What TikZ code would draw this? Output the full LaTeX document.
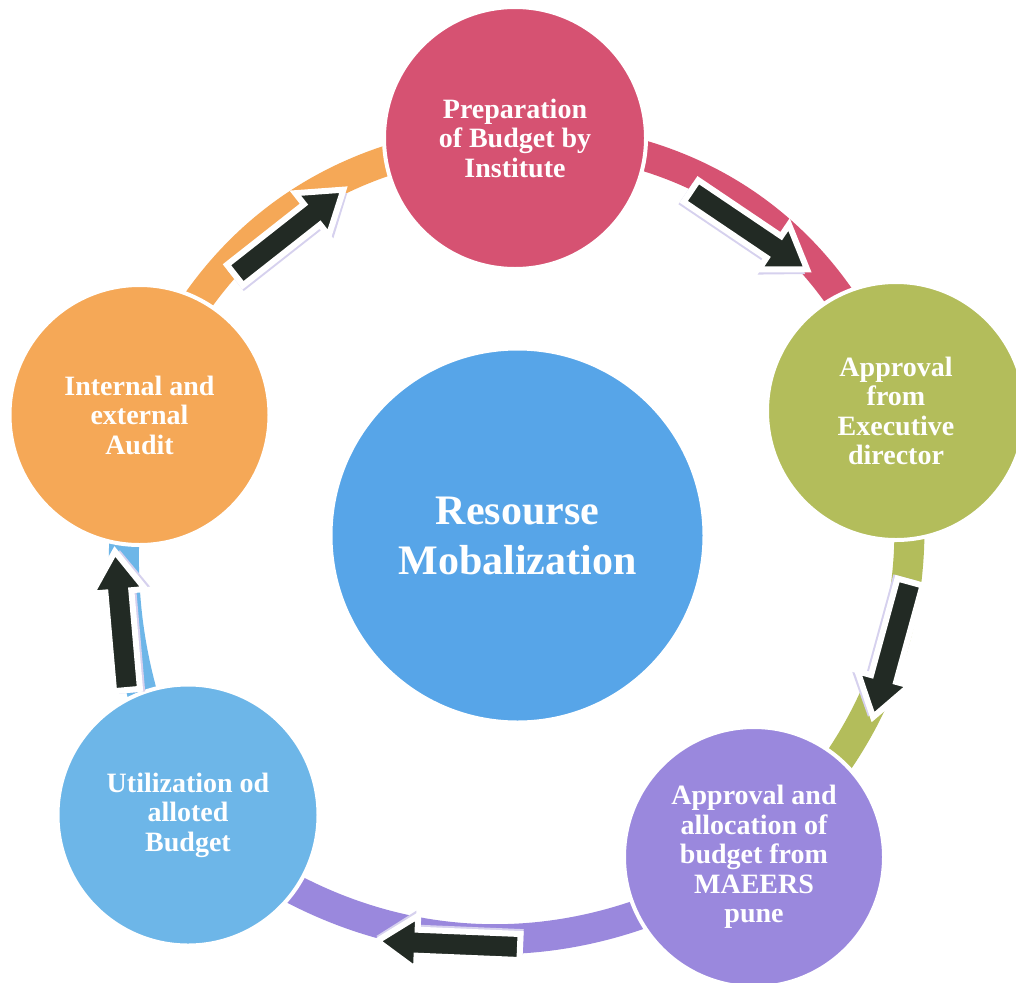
\documentclass[tikz,border=0pt]{standalone}
\usepackage{fontspec}
\setmainfont{Liberation Serif}
\usetikzlibrary{backgrounds}
\definecolor{cPink}{HTML}{D65272}
\definecolor{cOrange}{HTML}{F5A857}
\definecolor{cGreen}{HTML}{B3BD5B}
\definecolor{cPurple}{HTML}{9A88DD}
\definecolor{cBlueS}{HTML}{6DB6E8}
\definecolor{cBlueB}{HTML}{57A5E8}
\definecolor{cArrow}{HTML}{222A24}
\definecolor{cShadow}{HTML}{D6D1EE}
\tikzset{
  pics/barrow/.style={code={
    \path[fill=cShadow] (-3,-8) -- ({#1-38},-8) -- ({#1-38},-22) -- ({#1+1},5) -- ({#1-38},32) -- ({#1-38},18) -- (-3,18) -- cycle;
    \path[fill=cArrow, draw=white, line width=6pt, miter limit=3] (0,-13) -- ({#1-40},-13) -- ({#1-40},-27) -- (#1,0) -- ({#1-40},27) -- ({#1-40},13) -- (0,13) -- cycle;
  }}
}
\begin{document}
\begin{tikzpicture}[x=1pt,y=-1pt,
  stage/.style={circle, draw=white, line width=4pt, text=white, align=center, inner sep=0pt,
    font=\bfseries\fontsize{28}{29.5}\selectfont},
  hub/.style={stage, font=\bfseries\fontsize{42}{50}\selectfont},
  band/.style={line width=30pt}]
\useasboundingbox (0,0) rectangle (1016,982);

\node[stage, fill=cPink, minimum size=262pt] (pink) at (515,138) {Preparation\\of Budget by\\Institute};
\node[stage, fill=cGreen, minimum size=258pt] (green) at (896,411) {Approval\\from\\Executive\\director};
\node[stage, fill=cPurple, minimum size=260pt] (purple) at (754,857) {Approval and\\allocation of\\budget from\\MAEERS\\pune};
\node[stage, fill=cBlueS, minimum size=261pt] (blue) at (188,815) {Utilization od\\alloted\\Budget};
\node[stage, fill=cOrange, minimum size=260pt] (orange) at (139.5,415) {Internal and\\external\\Audit};
\node[hub, fill=cBlueB, minimum size=374pt] (hub) at (517.5,535.5) {Resourse\\Mobalization};

\begin{scope}[on background layer]
  \fill[white] (0,0) rectangle (1016,982);
  \draw[band, cPink] (pink.center) to[bend left=36] (green.center);
  \draw[band, cGreen] (green.center) to[bend left=30] (purple.center);
  \draw[band, cPurple] (purple.center) to[bend left=38] (blue.center);
  \draw[band, cBlueS] (blue.center) to[bend left=18] (orange.center);
  \draw[band, cOrange] (orange.center) to[bend left=34] (pink.center);
\end{scope}

\pic[rotate=-34] at (691,191) {barrow=140};
\pic[rotate=-105.3] at (910,582) {barrow=140};
\pic[rotate=-182.4] at (520,947) {barrow=143};
\pic[rotate=-265] at (127,690) {barrow=139};
\pic[rotate=38.2] at (235,275) {barrow=138};
\end{tikzpicture}
\end{document}
